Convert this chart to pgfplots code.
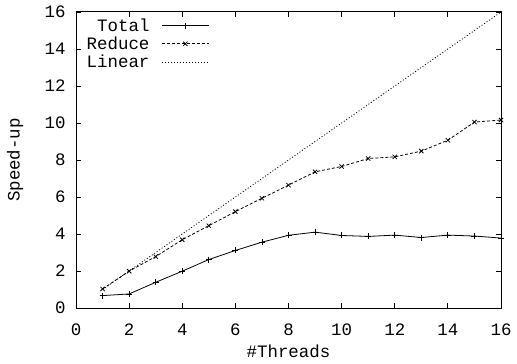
\documentclass[border=0pt]{standalone}
\usepackage{fontspec}
\setmainfont{Liberation Mono}
\usepackage{pgfplots}
\pgfplotsset{compat=1.18}
\begin{document}
\begin{tikzpicture}[x=1bp,y=1bp,font=\fontsize{17.5}{20}\selectfont]
\useasboundingbox (0,0) rectangle (517,363);
\begin{axis}[
  at={(76bp,55bp)}, anchor=south west,
  scale only axis, width=425bp, height=296bp,
  xmin=0, xmax=16, ymin=0, ymax=16,
  xtick={0,2,...,16}, ytick={0,2,...,16},
  tick align=inside, major tick length=5bp,
  tick style={black, line width=0.8bp},
  axis line style={line width=1bp},
  /pgf/number format/assume math mode=true,
  xticklabel style={yshift=-12bp},
  yticklabel style={xshift=-7bp},
  xlabel={\#Threads}, ylabel={Speed-up},
  xlabel style={at={(axis description cs:0.5,-0.147)}, anchor=center},
  ylabel style={at={(axis description cs:-0.1435,0.5)}, anchor=center},
  legend plot pos=right,
  legend cell align=right,
  legend style={draw=none, fill=none, at={(axis description cs:0.02,0.985)}, anchor=north west,
    row sep=0bp, column sep=10bp, inner sep=0pt},
  legend image code/.code={%
    \draw[mark repeat=2,mark phase=2,#1] plot coordinates {(0bp,0bp) (23.5bp,0bp) (47bp,0bp)};},
]
\addplot[black, line width=0.8bp, mark=+, mark size=3bp, mark options={solid}] coordinates {
(1,0.67) (2,0.76) (3,1.39) (4,1.99) (5,2.62) (6,3.11) (7,3.56) (8,3.93)
(9,4.10) (10,3.92) (11,3.87) (12,3.94) (13,3.81) (14,3.94) (15,3.89) (16,3.78)};
\addlegendentry{Total}
\addplot[black, line width=0.8bp, dash pattern=on 3bp off 2bp, mark=x, mark size=3bp, mark options={solid}] coordinates {
(1,1.03) (2,1.99) (3,2.78) (4,3.69) (5,4.45) (6,5.21) (7,5.93) (8,6.64)
(9,7.36) (10,7.65) (11,8.08) (12,8.17) (13,8.48) (14,9.07) (15,10.05) (16,10.16)};
\addlegendentry{Reduce}
\addplot[black, line width=0.8bp, dash pattern=on 1bp off 2bp] coordinates {
(1,1) (2,2) (3,3) (4,4) (5,5) (6,6) (7,7) (8,8) (9,9) (10,10) (11,11) (12,12) (13,13) (14,14) (15,15) (16,16)};
\addlegendentry{Linear}
\end{axis}
\end{tikzpicture}
\end{document}
